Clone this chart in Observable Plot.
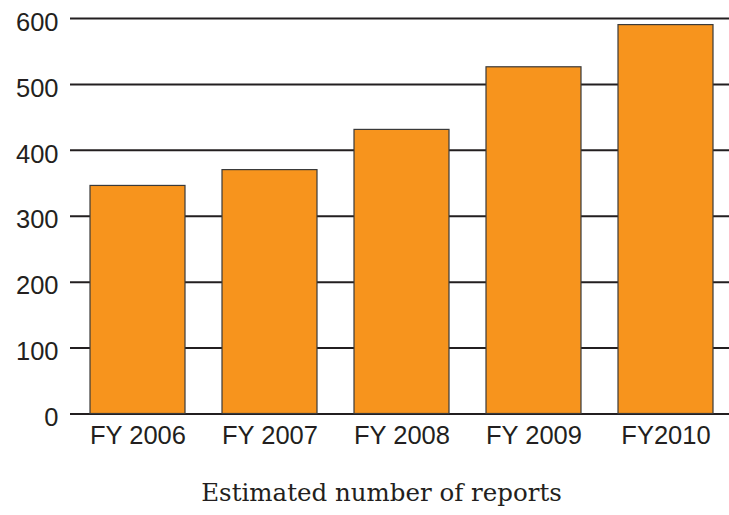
<!DOCTYPE html>
<html><head><meta charset="utf-8">
<script src="https://cdn.jsdelivr.net/npm/d3@7"></script>
<script src="https://cdn.jsdelivr.net/npm/@observablehq/plot@0.6"></script>
<style>
body{margin:0;background:#fff;}
#chart svg{display:block;}
#caption{font-family:"DejaVu Serif",serif;font-size:24.5px;line-height:1;color:#231f20;text-align:center;padding-left:34px;width:695px;margin-top:21px;}
</style></head><body>
<div id="chart"></div>
<div id="caption">Estimated number of reports</div>
<script>
const years = ["FY 2006","FY 2007","FY 2008","FY 2009","FY2010"];
const reports = [346,370,431,526,590];
const yTicks = [0,100,200,300,400,500,600];
const data = years.map((year,i)=>({year, value: reports[i]}));
const chart = Plot.plot({
  width:729, height:460, marginLeft:70, marginRight:0, marginTop:18, marginBottom:46.5,
  style:{fontFamily:"'Liberation Sans', Arial, sans-serif", color:"#231f20", background:"#fff"},
  x:{domain:years, range:[70,734], paddingInner:0.278, paddingOuter:0.139, label:null},
  y:{domain:[0,600], label:null},
  marks:[
    Plot.ruleY(yTicks,{stroke:"#231f20", strokeWidth:2}),
    Plot.barY(data,{x:"year", y:"value", fill:"#f7941d", stroke:"#3a3a3a", strokeWidth:1.2}),
    Plot.axisX({tickSize:0, tickPadding:12, fontSize:25.5, fill:"#231f20", label:null}),
    Plot.axisY({ticks:yTicks, tickSize:0, tickPadding:12, dy:4, fontSize:25.5, fill:"#231f20", label:null})
  ]
});
document.getElementById("chart").append(chart);
</script>
</body></html>
